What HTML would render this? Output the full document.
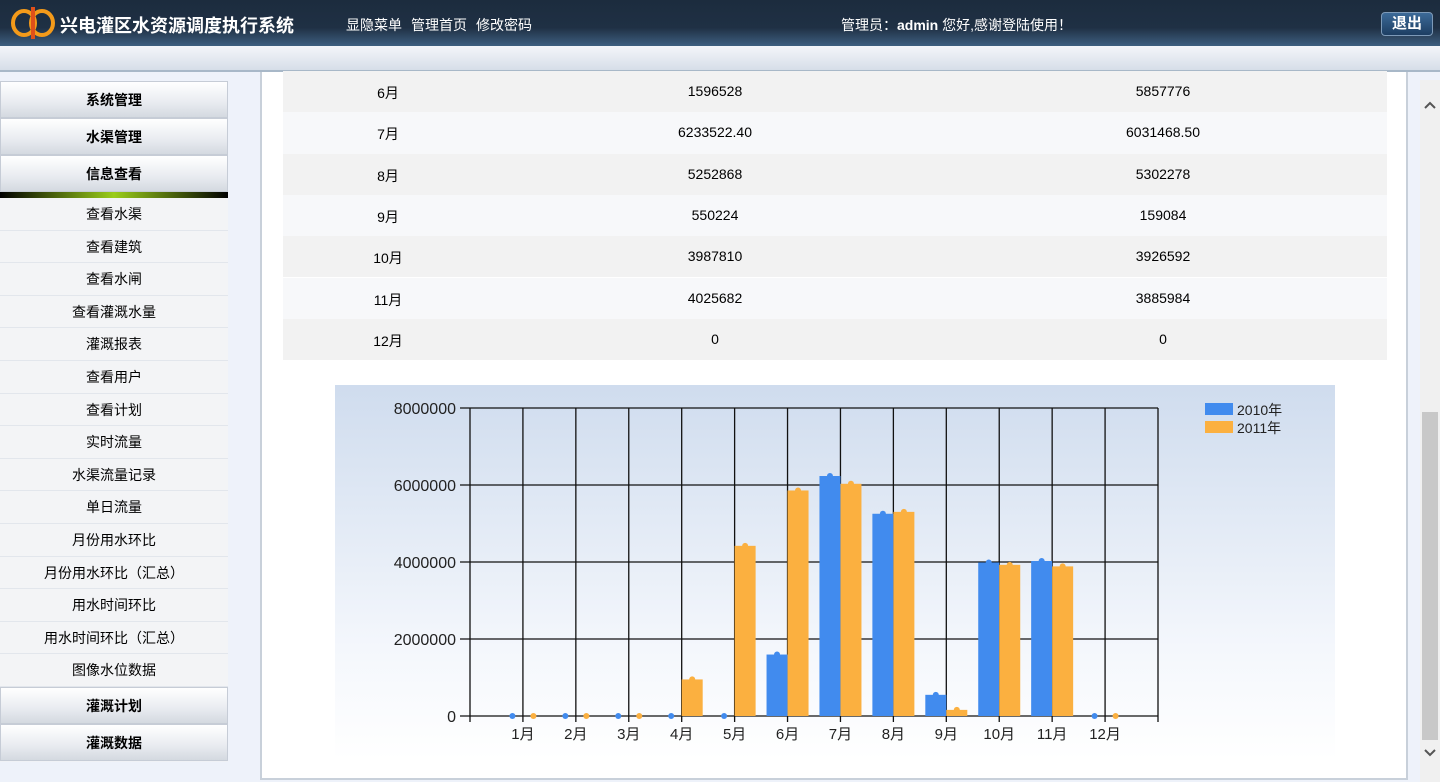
<!DOCTYPE html>
<html><head><meta charset="utf-8"><style>
*{margin:0;padding:0;box-sizing:border-box}
body{width:1440px;height:782px;overflow:hidden;background:#eef2fa;font-family:"Liberation Sans","Noto Sans CJK SC",sans-serif;position:relative}
#hdr{position:absolute;left:0;top:0;width:1440px;height:46px;background:linear-gradient(#1c2c3e 0,#1f3044 60%,#3e5f80 100%)}
#bar{position:absolute;left:0;top:46px;width:1440px;height:26px;background:linear-gradient(#f4f6fa,#d6dee8);border-bottom:2px solid #a8b8c8}
.ht{position:absolute;color:#fff;font-size:14px;top:15px}
#side{position:absolute;left:0;top:81px;width:228px;height:681px;background:#f0f2f6}
.mh{height:37px;border:1px solid #c6ccd6;background:linear-gradient(#fff,#e8ebf0 60%,#d4d9e0);font-weight:bold;font-size:14px;text-align:center;line-height:37px;color:#000}
.si{height:32.6px;line-height:32px;font-size:14px;text-align:center;border-bottom:1px solid #e2e6ec;background:#f3f4f6}
#main{position:absolute;left:260px;top:72px;width:1148px;height:708px;background:#fff;border-left:2px solid #c8d0da;border-right:2px solid #c8d0da;border-bottom:2px solid #c8d0da}
.row{position:absolute;left:283px;width:1104px;height:41.3px;font-size:14px}
.row span{position:absolute;top:12px;transform:translateX(-50%)}
#sb{position:absolute;left:1420px;top:80px;width:20px;height:702px;background:#f0f0f0}
</style></head><body>
<div id="hdr">
 <svg style="position:absolute;left:10px;top:4px" width="46" height="38"><ellipse cx="14" cy="19" rx="11" ry="12" fill="none" stroke="#f39a1a" stroke-width="4"/><ellipse cx="32" cy="19" rx="11" ry="12" fill="none" stroke="#f39a1a" stroke-width="4"/><rect x="21" y="3" width="4" height="32" fill="#e0501a"/></svg>
 <div class="ht" style="left:60px;top:12px;font-size:18px;font-weight:bold">兴电灌区水资源调度执行系统</div>
 <div class="ht" style="left:346px">显隐菜单</div>
 <div class="ht" style="left:411px">管理首页</div>
 <div class="ht" style="left:476px">修改密码</div>
 <div class="ht" style="left:841px">管理员：<b>admin</b> 您好,感谢登陆使用！</div>
 <div style="position:absolute;left:1381px;top:12px;width:52px;height:24px;border:1px solid #7d9ab8;border-radius:4px;background:linear-gradient(#3c6a98,#1d3e62);color:#fff;font-weight:bold;font-size:15px;text-align:center;line-height:22px">退出</div>
</div>
<div id="bar"></div>
<div id="side">
 <div class="mh">系统管理</div>
 <div class="mh">水渠管理</div>
 <div class="mh">信息查看</div>
 <div style="height:6px;background:linear-gradient(90deg,#000,#9acd1a 50%,#000)"></div>
 <div class="si">查看水渠</div>
 <div class="si">查看建筑</div>
 <div class="si">查看水闸</div>
 <div class="si">查看灌溉水量</div>
 <div class="si">灌溉报表</div>
 <div class="si">查看用户</div>
 <div class="si">查看计划</div>
 <div class="si">实时流量</div>
 <div class="si">水渠流量记录</div>
 <div class="si">单日流量</div>
 <div class="si">月份用水环比</div>
 <div class="si">月份用水环比（汇总）</div>
 <div class="si">用水时间环比</div>
 <div class="si">用水时间环比（汇总）</div>
 <div class="si">图像水位数据</div>
 <div class="mh">灌溉计划</div>
 <div class="mh">灌溉数据</div>
</div>
<div id="main"></div>
<div id="rows"></div>
<div style="position:absolute;left:335px;top:385px;width:1000px;height:375px;background:linear-gradient(#cfdcee,#f4f7fc 70%,#fff)">
<svg id="ch" width="1000" height="375" style="font-family:'Liberation Sans','Noto Sans CJK SC',sans-serif"></svg></div>
<div id="sb">
 <svg style="position:absolute;left:3px;top:20px" width="14" height="10"><path d="M2 8 L7 3 L12 8" fill="none" stroke="#555" stroke-width="2"/></svg>
 <div style="position:absolute;left:2px;top:332px;width:16px;height:328px;background:#c8c8c8"></div>
 <svg style="position:absolute;left:3px;top:668px" width="14" height="10"><path d="M2 2 L7 7 L12 2" fill="none" stroke="#555" stroke-width="2"/></svg>
</div>
<script>
const tMonths=["6月","7月","8月","9月","10月","11月","12月"];
const t2010=["1596528","6233522.40","5252868","550224","3987810","4025682","0"];
const t2011=["5857776","6031468.50","5302278","159084","3926592","3885984","0"];
const R=document.getElementById('rows');
tMonths.forEach((m,i)=>{const d=document.createElement('div');d.className='row';d.style.top=(71+i*41.3)+'px';d.style.background=i%2?'#f7f8fa':'#f2f2f2';


d.innerHTML='<span style="left:105px">'+m+'</span><span style="left:432px">'+t2010[i]+'</span><span style="left:880px">'+t2011[i]+'</span>';R.appendChild(d);});

const cats=["1月","2月","3月","4月","5月","6月","7月","8月","9月","10月","11月","12月"];
const s2010=[0,0,0,0,0,1596528,6233522,5252868,550224,3987810,4025682,0];
const s2011=[0,0,0,950000,4420000,5857776,6031468,5302278,159084,3926592,3885984,0];
const yTicks=[0,2000000,4000000,6000000,8000000];
const NS='http://www.w3.org/2000/svg',svg=document.getElementById('ch');
const L=135,Rr=823,T=23,B=331,W=(Rr-L)/13;
const x=i=>L+(i+1)*W, y=v=>B-(v/8000000)*(B-T);
function mk(t,a,txt){const e=document.createElementNS(NS,t);for(const k in a)e.setAttribute(k,a[k]);if(txt!=null)e.textContent=txt;svg.appendChild(e);return e;}
yTicks.forEach(v=>{const g=mk('line',{x1:L-10,x2:Rr,y1:y(v),y2:y(v),stroke:'#111','stroke-width':1.3});


const t=mk('text',{x:L-14,y:y(v)+6,'text-anchor':'end','font-size':16,fill:'#222'},String(v));

});
for(let i=0;i<=13;i++){const g=mk('line',{x1:L+i*W,x2:L+i*W,y1:T,y2:B+6,stroke:'#111','stroke-width':1.3});

}
cats.forEach((c,i)=>{const cx=x(i);
const b1=mk('rect',{x:cx-21,y:y(s2010[i]),width:21,height:B-y(s2010[i]),fill:'#418bee'});


const b2=mk('rect',{x:cx,y:y(s2011[i]),width:21,height:B-y(s2011[i]),fill:'#fbb040'});


const p1=mk('circle',{cx:cx-10.5,cy:y(s2010[i]),r:3,fill:'#418bee'});


const p2=mk('circle',{cx:cx+10.5,cy:y(s2011[i]),r:3,fill:'#fbb040'});


const t=mk('text',{x:cx,y:B+23,'text-anchor':'middle','font-size':15,fill:'#222'},c);

});
[["2010年",'#418bee',18],["2011年",'#fbb040',36]].forEach(([n,c,yy])=>{
const r=mk('rect',{x:870,y:yy,width:28,height:12,fill:c});


const t=mk('text',{x:902,y:yy+12,'font-size':14,fill:'#222'},n);

});
</script>
</body></html>
